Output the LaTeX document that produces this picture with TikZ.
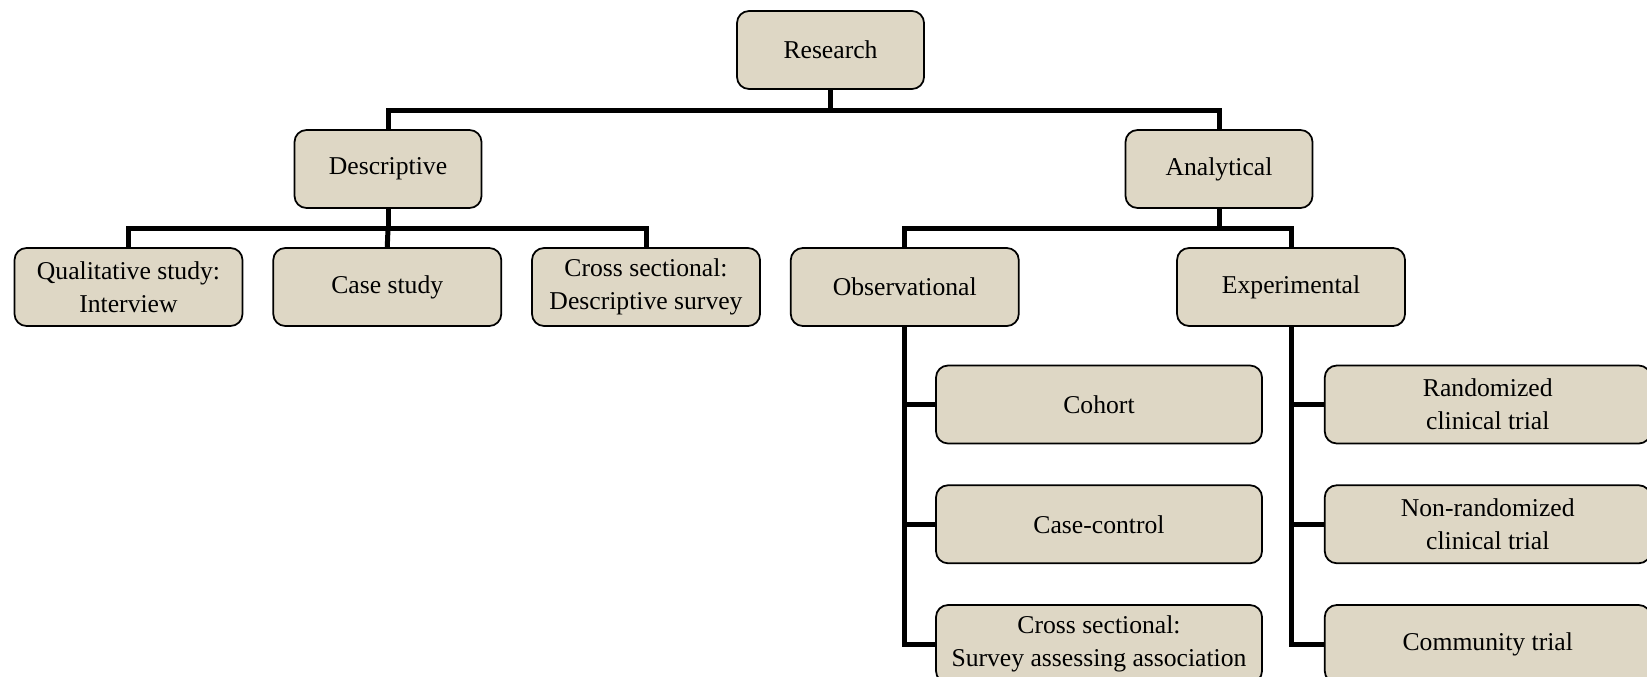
\documentclass[tikz,border=0pt]{standalone}
\usepackage{fontspec}
\setmainfont{Liberation Serif}
\usepackage{tikz}
\usetikzlibrary{positioning}
\definecolor{boxfill}{HTML}{DED7C5}
\tikzstyle{block} = [rectangle, draw, fill=boxfill, line width=1pt,
    rounded corners=0.24cm, align=center, minimum height=1.56cm,
    minimum width=3.74cm, font=\fontsize{14.6}{19}\selectfont]
\tikzstyle{midblock} = [block, minimum width=4.56cm]
\tikzstyle{bigblock} = [block, minimum width=6.52cm]
\tikzstyle{link} = [draw, line width=0.1cm]

\begin{document}
\begin{tikzpicture}[node distance = 0.58cm]
        \useasboundingbox (0,0) rectangle (32.94,-13.54);
        % Place nodes
        \node [block] (research) at (16.61,-1.0) {Research};
        \node [block] (desc) at (7.76,-3.38) {Descriptive};
        \node [block] (anal) at (24.38,-3.38) {Analytical};
        \node [midblock] (qual) at (2.57,-5.74) {Qualitative study:\\Interview};
        \node [midblock, right= of qual] (case) {Case study};
        \node [midblock, right= of case] (crossd) {Cross sectional:\\Descriptive survey};
        \node [midblock, right= of crossd] (obs) {Observational};
        \node [midblock, right=3.13cm of obs] (exp) {Experimental};
        \node [bigblock] (cohort) at (21.98,-8.09) {Cohort};
        \node [bigblock, below=0.8cm of cohort] (casecon) {Case-control};
        \node [bigblock, below=0.8cm of casecon] (crossa) {Cross sectional:\\Survey assessing association};
        \node [bigblock, right=1.22cm of cohort] (rct) {Randomized\\clinical trial};
        \node [bigblock, below=0.8cm of rct] (nrct) {Non-randomized\\clinical trial};
        \node [bigblock, below=0.8cm of nrct] (comm) {Community trial};
        \coordinate [below=0.42cm of research] (top);
        \coordinate [below=0.4cm of desc] (left);
        \coordinate [below=0.4cm of anal] (right);
        % Draw edges
        \path [link] (research) -- (top);
        \path [link] (desc.north) |- (top) -| (anal.north);
        \path [link] (desc) -- (left);
        \path [link] (qual.north) |- (left) -| (crossd.north);
        \path [link] (left) -- (case.north);
        \path [link] (anal) -- (right);
        \path [link] (obs.north) |- (right) -| (exp.north);
        \path [link] (obs.south) |- (crossa.west);
        \path [link] (obs.south |- cohort.west) -- (cohort.west);
        \path [link] (obs.south |- casecon.west) -- (casecon.west);
        \path [link] (exp.south) |- (comm.west);
        \path [link] (exp.south |- rct.west) -- (rct.west);
        \path [link] (exp.south |- nrct.west) -- (nrct.west);
\end{tikzpicture}
\end{document}
